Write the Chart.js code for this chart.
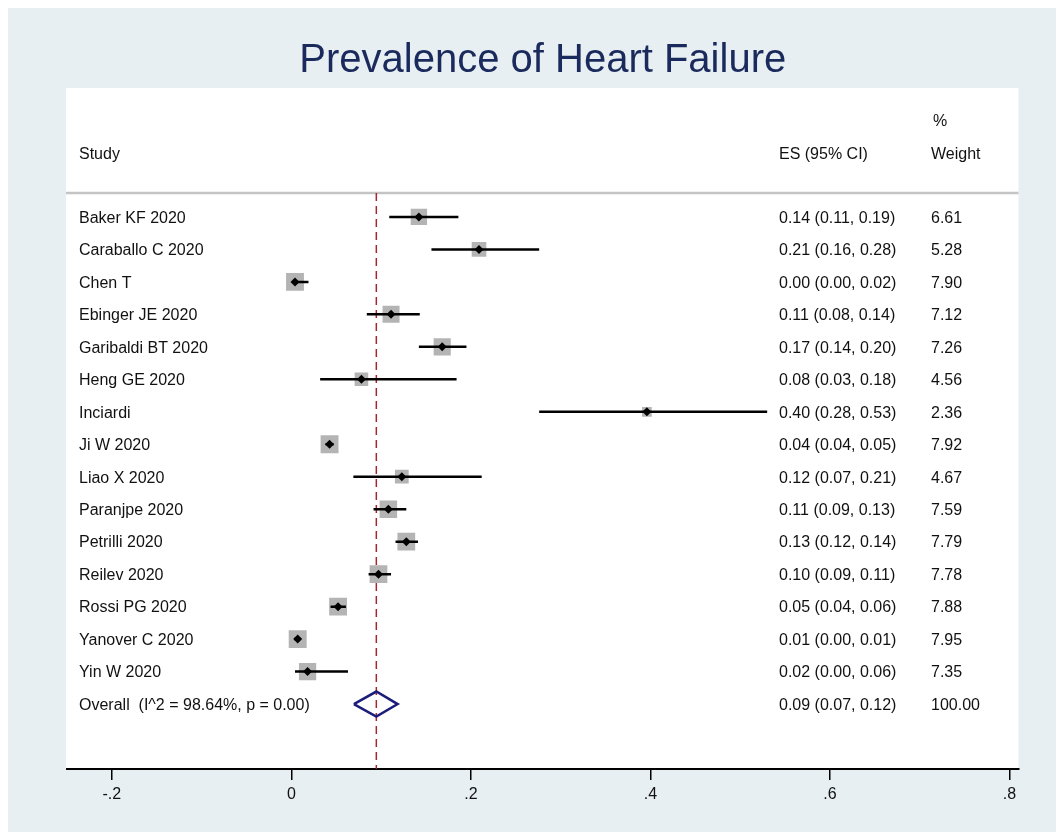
<!DOCTYPE html>
<html>
<head>
<meta charset="utf-8">
<script src="https://cdn.jsdelivr.net/npm/chart.js@4.4.1/dist/chart.umd.min.js"></script>
<style>
  body { margin: 0; background: #fff; }
  canvas { display: block; }
</style>
</head>
<body>
<canvas id="chart" width="1056" height="832"></canvas>
<script>
// study data
var studies = ['Baker KF 2020', 'Caraballo C 2020', 'Chen T', 'Ebinger JE 2020', 'Garibaldi BT 2020',
    'Heng GE 2020', 'Inciardi', 'Ji W 2020', 'Liao X 2020', 'Paranjpe 2020', 'Petrilli 2020',
    'Reilev 2020', 'Rossi PG 2020', 'Yanover C 2020', 'Yin W 2020'];
var esValues = [0.142, 0.209, 0.004, 0.111, 0.168, 0.078, 0.396, 0.0425, 0.123, 0.108, 0.128, 0.097, 0.052, 0.007, 0.018];
var ciLower  = [0.109, 0.156, 0.001, 0.084, 0.142, 0.032, 0.276, 0.038, 0.069, 0.0915, 0.116, 0.086, 0.0436, 0.003, 0.004];
var ciUpper  = [0.186, 0.276, 0.019, 0.143, 0.195, 0.184, 0.530, 0.047, 0.212, 0.128, 0.141, 0.111, 0.0607, 0.010, 0.063];
var weights  = [6.61, 5.28, 7.90, 7.12, 7.26, 4.56, 2.36, 7.92, 4.67, 7.59, 7.79, 7.78, 7.88, 7.95, 7.35];
var esLabels = ['0.14 (0.11, 0.19)', '0.21 (0.16, 0.28)', '0.00 (0.00, 0.02)', '0.11 (0.08, 0.14)',
    '0.17 (0.14, 0.20)', '0.08 (0.03, 0.18)', '0.40 (0.28, 0.53)', '0.04 (0.04, 0.05)',
    '0.12 (0.07, 0.21)', '0.11 (0.09, 0.13)', '0.13 (0.12, 0.14)', '0.10 (0.09, 0.11)',
    '0.05 (0.04, 0.06)', '0.01 (0.00, 0.01)', '0.02 (0.00, 0.06)'];
var weightLabels = ['6.61', '5.28', '7.90', '7.12', '7.26', '4.56', '2.36', '7.92', '4.67', '7.59',
    '7.79', '7.78', '7.88', '7.95', '7.35'];

var overallName = 'Overall  (I^2 = 98.64%, p = 0.00)';
var overallEs = 0.0946;
var overallLower = 0.0696;
var overallUpper = 0.1183;
var overallEsLabel = '0.09 (0.07, 0.12)';
var overallWeightLabel = '100.00';

var xTicks = [-0.2, 0, 0.2, 0.4, 0.6, 0.8];
var xTickLabels = ['-.2', '0', '.2', '.4', '.6', '.8'];

var FONT = '"Liberation Sans", Arial, sans-serif';
var overallRow = studies.length + 1;

function rowOf(i) { return i + 1; }

var datasets = [];

// reference line at the pooled estimate
datasets.push({
    data: [{x: overallEs, y: 0.26}, {x: overallEs, y: 18}],
    showLine: true,
    borderColor: '#a3282c',
    borderWidth: 1.5,
    borderDash: [8, 5],
    pointRadius: 0,
    order: 6
});

// weight boxes
datasets.push({
    data: studies.map(function (s, i) { return {x: esValues[i], y: rowOf(i)}; }),
    pointStyle: 'rect',
    pointRadius: weights.map(function (w) { return 4.5 * Math.sqrt(w); }),
    backgroundColor: '#b4b4b4',
    borderWidth: 0,
    order: 5
});

// confidence intervals
studies.forEach(function (s, i) {
    datasets.push({
        data: [{x: ciLower[i], y: rowOf(i)}, {x: ciUpper[i], y: rowOf(i)}],
        showLine: true,
        borderColor: '#000',
        borderWidth: 2.5,
        pointRadius: 0,
        order: 4
    });
});

// pooled diamond
datasets.push({
    data: [
        {x: overallLower, y: overallRow},
        {x: overallEs, y: overallRow - 0.385},
        {x: overallUpper, y: overallRow},
        {x: overallEs, y: overallRow + 0.385},
        {x: overallLower, y: overallRow}
    ],
    showLine: true,
    borderColor: '#1c1c7a',
    borderWidth: 2.5,
    borderJoinStyle: 'miter',
    pointRadius: 0,
    order: 3
});

// point estimates
datasets.push({
    data: studies.map(function (s, i) { return {x: esValues[i], y: rowOf(i)}; }),
    pointStyle: 'rectRot',
    pointRadius: 4.5,
    backgroundColor: '#000',
    borderWidth: 0,
    order: 1
});

var forestText = {
    id: 'forestText',
    beforeDraw: function (chart) {
        var ctx = chart.ctx, a = chart.chartArea;
        ctx.save();
        ctx.fillStyle = '#ffffff';
        ctx.fillRect(0, 0, chart.width, chart.height);
        ctx.fillStyle = '#e8eff2';
        ctx.fillRect(8, 8, chart.width - 8, chart.height - 8);
        ctx.fillStyle = '#ffffff';
        ctx.fillRect(a.left - 1, a.top, a.right - a.left + 1, a.bottom - a.top);
        ctx.restore();
    },
    beforeDatasetsDraw: function (chart) {
        var ctx = chart.ctx, a = chart.chartArea, y = chart.scales.y;
        ctx.save();
        ctx.strokeStyle = '#c4c4c4';
        ctx.lineWidth = 2.5;
        ctx.beginPath();
        ctx.moveTo(a.left - 1, y.getPixelForValue(0.26));
        ctx.lineTo(a.right, y.getPixelForValue(0.26));
        ctx.stroke();
        ctx.restore();
    },
    afterDraw: function (chart) {
        var ctx = chart.ctx, a = chart.chartArea, y = chart.scales.y;
        var xName = a.left + 12, xEs = 779, xW = 931;
        var base = 5.8; // half the cap height, so text sits centred on the row
        ctx.save();
        ctx.fillStyle = '#1b2a5c';
        ctx.font = '40px ' + FONT;
        ctx.textAlign = 'center';
        ctx.textBaseline = 'alphabetic';
        ctx.fillText('Prevalence of Heart Failure', (a.left + a.right) / 2, 72);

        ctx.fillStyle = '#111';
        ctx.font = '16px ' + FONT;
        ctx.textAlign = 'left';
        ctx.fillText('Study', xName, y.getPixelForValue(-0.97) + base);
        ctx.fillText('ES (95% CI)', xEs, y.getPixelForValue(-0.97) + base);
        ctx.fillText('%', xW + 2, y.getPixelForValue(-1.99) + base);
        ctx.fillText('Weight', xW, y.getPixelForValue(-0.97) + base);

        studies.forEach(function (s, i) {
            var py = y.getPixelForValue(rowOf(i)) + base;
            ctx.fillText(s, xName, py);
            ctx.fillText(esLabels[i], xEs, py);
            ctx.fillText(weightLabels[i], xW, py);
        });
        var oy = y.getPixelForValue(overallRow) + base;
        ctx.fillText(overallName, xName, oy);
        ctx.fillText(overallEsLabel, xEs, oy);
        ctx.fillText(overallWeightLabel, xW, oy);
        ctx.restore();
    }
};

new Chart(document.getElementById('chart'), {
    type: 'scatter',
    data: { datasets: datasets },
    plugins: [forestText],
    options: {
        responsive: false,
        animation: false,
        layout: { padding: { left: 67, right: 37.5, top: 88, bottom: 0 } },
        plugins: {
            legend: { display: false },
            tooltip: { enabled: false }
        },
        scales: {
            x: {
                type: 'linear',
                min: -0.25,
                max: 0.81,
                afterBuildTicks: function (scale) {
                    scale.ticks = xTicks.map(function (v) { return {value: v}; });
                },
                afterFit: function (scale) { scale.height = 63; },
                border: { display: true, color: '#000', width: 2 },
                grid: {
                    display: true,
                    drawOnChartArea: false,
                    drawTicks: true,
                    tickLength: 11,
                    color: '#000',
                    lineWidth: 1.5
                },
                ticks: {
                    autoSkip: false,
                    maxRotation: 0,
                    padding: 5,
                    color: '#111',
                    font: { family: FONT, size: 16 },
                    callback: function (v, i) { return xTickLabels[i]; }
                }
            },
            y: {
                type: 'linear',
                display: false,
                reverse: true,
                min: -2.97,
                max: 18
            }
        }
    }
});
</script>
</body>
</html>
